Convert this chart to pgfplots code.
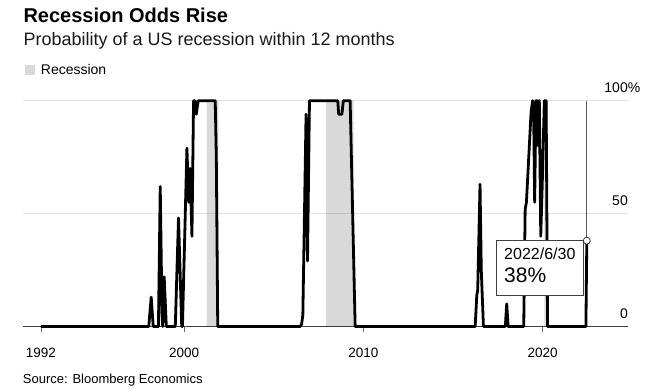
\documentclass[border=0pt]{standalone}
\usepackage{pgfplots}
\pgfplotsset{compat=1.18}
\usepackage{fontspec}
\setmainfont{Liberation Sans}
\definecolor{recshade}{HTML}{D9D9D9}
\definecolor{gridc}{HTML}{E3E3E3}
\begin{document}
\begin{tikzpicture}[x=1pt,y=1pt]
\useasboundingbox (0,0) rectangle (652,390);
\node[anchor=base west, inner sep=0, font=\fontsize{20}{24}\selectfont\bfseries] at (23.3,367.3) {Recession Odds Rise};
\node[anchor=base west, inner sep=0, font=\fontsize{18}{22}\selectfont, text=black!90] at (23.3,344) {Probability of a US recession within 12 months};
\fill[recshade] (24.7,315) rectangle (35,325);
\node[anchor=base west, inner sep=0, font=\fontsize{14}{16}\selectfont] at (40.7,315) {Recession};
\node[anchor=base west, inner sep=0, font=\fontsize{13}{15}\selectfont] at (22.7,6.7) {Source: Bloomberg Economics};
\begin{axis}[
  at={(23pt,63.5pt)}, anchor=south west,
  scale only axis, width=605pt, height=225.8pt,
  xmin=1991.0, xmax=2024.77, ymin=0, ymax=100,
  clip=false,
  axis x line*=bottom, axis y line*=right,
  y axis line style={draw=none},
  x axis line style={-, draw=black!75, line width=0.8pt},
  xtick={1992,2000,2010,2020},
  xticklabels={1992,2000,2010,2020},
  ytick={0,50,100},
  yticklabels={0,50,100\rlap{\%}},
  xtick align=outside,
  major tick length=6pt,
  xtick style={draw=black!60, line width=0.8pt},
  ytick style={draw=none},
  ymajorgrids,
  grid style={draw=gridc, line width=0.9pt},
  x tick label style={font=\fontsize{13.5}{16}\selectfont, anchor=base, inner sep=0pt, yshift=-25.2pt},
  y tick label style={font=\fontsize{14}{16}\selectfont, anchor=base east, inner sep=0pt, yshift=8pt},
]
\addplot[draw=none, fill=black, fill opacity=0.15] coordinates {(2001.25,0)(2001.25,100)(2001.9,100)(2001.9,0)} \closedcycle;
\addplot[draw=none, fill=black, fill opacity=0.15] coordinates {(2007.92,0)(2007.92,100)(2009.45,100)(2009.45,0)} \closedcycle;
\addplot[draw=none, fill=black, fill opacity=0.15] coordinates {(2020.1,0)(2020.1,100)(2020.3,100)(2020.3,0)} \closedcycle;
\addplot[black!65, line width=0.8pt] coordinates {(2022.47,0)(2022.47,100)};
\addplot[black, line width=2.8pt, line join=round] table {
x y
1992.0 0
1998.02 0
1998.155 13
1998.27 0
1998.56 0
1998.66 62
1998.76 5
1998.8 0
1998.88 22
1999.0 0
1999.5 0
1999.68 48
1999.86 0
1999.9 0
2000.15 79
2000.25 55
2000.33 70
2000.43 40
2000.52 100
2000.6 100
2000.67 94
2000.78 100
2001.73 100
2001.79 75
2001.87 0
2006.47 0
2006.55 1
2006.62 5
2006.80 94
2006.88 29
2006.99 100
2008.57 100
2008.62 94
2008.8 94
2008.88 100
2009.26 100
2009.54 0
2016.24 0
2016.33 14
2016.38 16
2016.51 63
2016.58 25
2016.70 0
2017.92 0
2018.0 10
2018.08 0
2018.95 0
2019.03 52
2019.1 55
2019.36 95
2019.45 100
2019.5 97
2019.56 55
2019.63 100
2019.72 100
2019.77 80
2019.82 100
2019.9 40
2019.98 62
2020.1 100
2020.2 100
2020.28 0
2022.42 0
2022.47 38
};
\draw[black!75, fill=white, line width=0.8pt] (axis cs:2017.45,38) rectangle (axis cs:2022.28,13.7);
\node[anchor=base west, inner sep=0, font=\fontsize{16}{18}\selectfont] at (axis cs:2017.85,29.8) {2022/6/30};
\node[anchor=base west, inner sep=0, font=\fontsize{21}{24}\selectfont] at (axis cs:2017.85,19.4) {38\%};
\addplot[only marks, mark=*, mark size=3.5pt, mark options={fill=white, draw=black!80, line width=0.8pt}] coordinates {(2022.47,38)};
\end{axis}
\end{tikzpicture}
\end{document}
